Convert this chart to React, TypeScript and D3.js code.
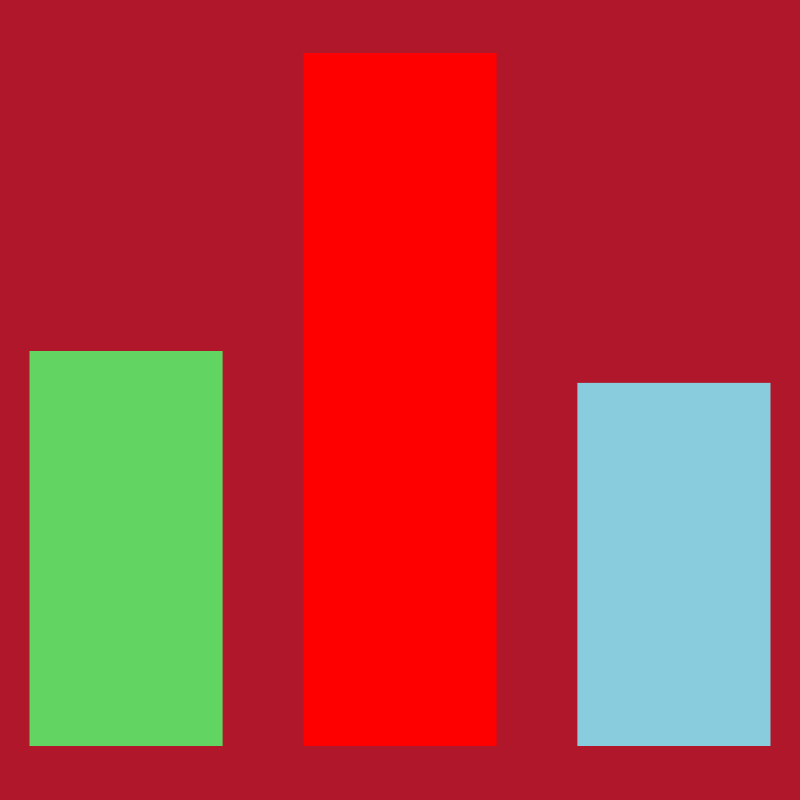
import React, { useEffect, useRef } from 'react';
import * as d3 from 'd3';

const categories = ['A', 'B', 'C'];
const values = [57, 100, 52.4];
const colors = ['#62D462', '#FF0000', '#89CCDE'];

const App: React.FC = () => {
  const svgRef = useRef<SVGSVGElement>(null);

  useEffect(() => {
    document.body.style.margin = '0';
    if (!svgRef.current) return;

    const svg = d3.select(svgRef.current);
    svg.selectAll('*').remove();

    const width = 800;
    const height = 800;

    // Background
    svg.append('rect')
      .attr('width', width)
      .attr('height', height)
      .attr('fill', '#B0172A');

    const xScale = d3
      .scaleBand()
      .domain(categories)
      .range([29.5, 770.5])
      .paddingInner(0.295)
      .paddingOuter(0);

    const yScale = d3.scaleLinear().domain([0, 100]).range([746, 53]);

    // Bars
    svg.selectAll('.bar')
      .data(values)
      .enter()
      .append('rect')
      .attr('class', 'bar')
      .attr('x', (_, i) => xScale(categories[i]) || 0)
      .attr('y', (d) => yScale(d))
      .attr('width', xScale.bandwidth())
      .attr('height', (d) => yScale(0) - yScale(d))
      .attr('fill', (_, i) => colors[i]);
  }, []);

  return (
    <svg
      ref={svgRef}
      width={800}
      height={800}
      style={{ display: 'block' }}
    />
  );
};

export default App;
